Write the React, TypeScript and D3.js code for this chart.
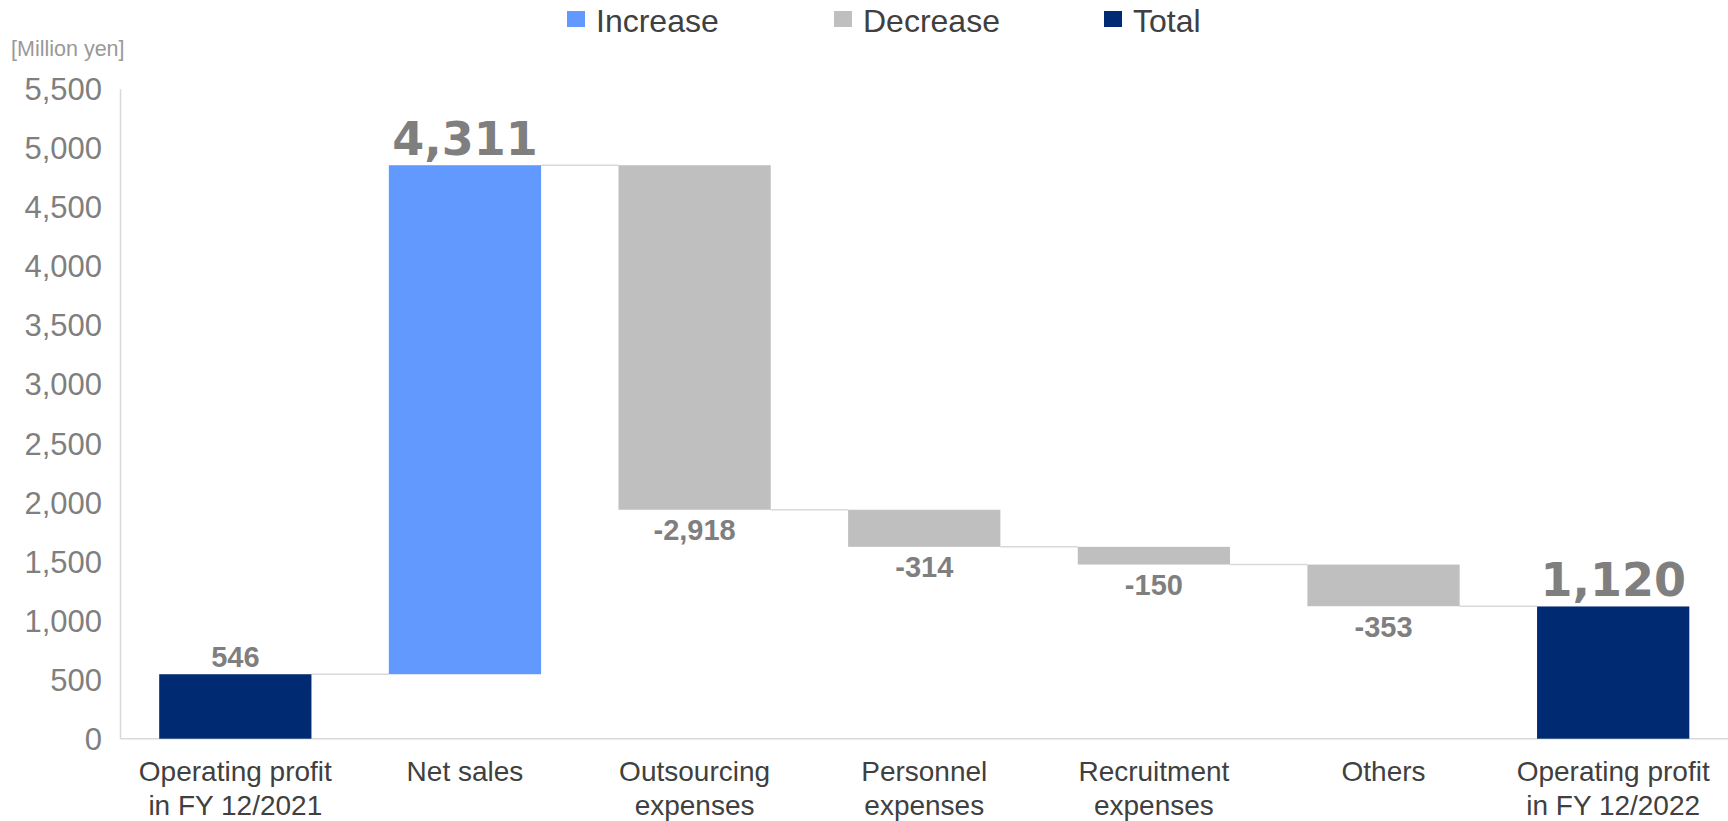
import React from "react";
import * as d3 from "d3";

const categories: string[][] = [
  ["Operating profit", "in FY 12/2021"],
  ["Net sales"],
  ["Outsourcing", "expenses"],
  ["Personnel", "expenses"],
  ["Recruitment", "expenses"],
  ["Others"],
  ["Operating profit", "in FY 12/2022"],
];
const values: number[] = [546, 4311, -2918, -314, -150, -353, 1120];
const kinds: string[] = ["total", "increase", "decrease", "decrease", "decrease", "decrease", "total"];
const valueLabels: string[] = ["546", "4,311", "-2,918", "-314", "-150", "-353", "1,120"];
const bigLabel: boolean[] = [false, true, false, false, false, false, true];
const yTicks: number[] = [0, 500, 1000, 1500, 2000, 2500, 3000, 3500, 4000, 4500, 5000, 5500];
const legendItems: string[] = ["Increase", "Decrease", "Total"];
const legendKinds: string[] = ["increase", "decrease", "total"];

const colors: Record<string, string> = {
  increase: "#6199ff",
  decrease: "#bfbfbf",
  total: "#002a72",
};

const W = 1728;
const H = 821;
const plotLeft = 120.5;
const plotRight = 1728;
const y0 = 738.7;
const yTop = 89.3;

export default function App() {
  const x = d3
    .scaleBand<number>()
    .domain(d3.range(categories.length))
    .range([plotLeft, plotRight])
    .paddingInner(0.337)
    .paddingOuter(0.1685);
  const y = d3.scaleLinear().domain([0, 5500]).range([y0, yTop]);

  let cum = 0;
  const bars = values.map((v, i) => {
    let start: number, end: number;
    if (kinds[i] === "total") {
      start = 0;
      end = v;
      cum = v;
    } else {
      start = cum;
      end = cum + v;
      cum = end;
    }
    return { i, v, start, end, kind: kinds[i] };
  });

  const font = "Arial, 'Liberation Sans', sans-serif";
  const bw = x.bandwidth();

  const legendX = [567, 834, 1104];

  return (
    <svg
      width={W}
      height={H}
      style={{ position: "absolute", left: 0, top: 0, background: "#fff" }}
      fontFamily={font}
    >
      {/* legend */}
      {legendItems.map((name, i) => (
        <g key={name}>
          <rect x={legendX[i]} y={11} width={18} height={16} fill={colors[legendKinds[i]]} />
          <text x={legendX[i] + 29} y={31.5} fontSize={32} fill="#404040">
            {name}
          </text>
        </g>
      ))}

      {/* unit */}
      <text x={11} y={56} fontSize={21.5} fill="#999999">
        [Million yen]
      </text>

      {/* y tick labels */}
      {yTicks.map((t) => (
        <text key={t} x={102} y={y(t) + 11} fontSize={31} fill="#7f7f7f" textAnchor="end">
          {d3.format(",")(t)}
        </text>
      ))}

      {/* axes */}
      <line x1={plotLeft} x2={plotLeft} y1={y(5500)} y2={y0} stroke="#d9d9d9" strokeWidth={1.5} />
      <line x1={plotLeft} x2={plotRight} y1={y0} y2={y0} stroke="#d9d9d9" strokeWidth={1.5} />

      {/* connectors */}
      {bars.slice(0, -1).map((b, i) => {
        const x1 = (x(i) as number) + bw;
        const x2 = x(i + 1) as number;
        return (
          <line
            key={"c" + i}
            x1={x1}
            x2={x2}
            y1={y(b.end)}
            y2={y(b.end)}
            stroke="#d9d9d9"
            strokeWidth={1.5}
          />
        );
      })}

      {/* bars */}
      {bars.map((b) => {
        const top = y(Math.max(b.start, b.end));
        const bottom = y(Math.min(b.start, b.end));
        return (
          <rect
            key={"b" + b.i}
            x={x(b.i)}
            y={top}
            width={bw}
            height={bottom - top}
            fill={colors[b.kind]}
          />
        );
      })}

      {/* value labels */}
      {bars.map((b) => {
        const cx = (x(b.i) as number) + bw / 2;
        if (b.kind === "decrease") {
          const bottom = y(Math.min(b.start, b.end));
          return (
            <text
              key={"l" + b.i}
              x={cx}
              y={bottom + 30.5}
              fontSize={29}
              fontWeight="bold"
              fill="#7f7f7f"
              textAnchor="middle"
            >
              {valueLabels[b.i]}
            </text>
          );
        }
        const top = y(Math.max(b.start, b.end));
        if (bigLabel[b.i]) {
          return (
            <text
              key={"l" + b.i}
              x={cx}
              y={top - 10.5}
              fontSize={46}
              fontWeight="bold"
              fontFamily="'DejaVu Sans', Verdana, sans-serif"
              fill="#7f7f7f"
              textAnchor="middle"
            >
              {valueLabels[b.i]}
            </text>
          );
        }
        return (
          <text
            key={"l" + b.i}
            x={cx}
            y={top - 7.5}
            fontSize={29}
            fontWeight="bold"
            fill="#7f7f7f"
            textAnchor="middle"
          >
            {valueLabels[b.i]}
          </text>
        );
      })}

      {/* category labels */}
      {categories.map((lines, i) => (
        <text
          key={"x" + i}
          x={(x(i) as number) + bw / 2}
          fontSize={28}
          fill="#404040"
          textAnchor="middle"
        >
          {lines.map((ln, j) => (
            <tspan key={j} x={(x(i) as number) + bw / 2} y={781 + j * 34}>
              {ln}
            </tspan>
          ))}
        </text>
      ))}
    </svg>
  );
}
